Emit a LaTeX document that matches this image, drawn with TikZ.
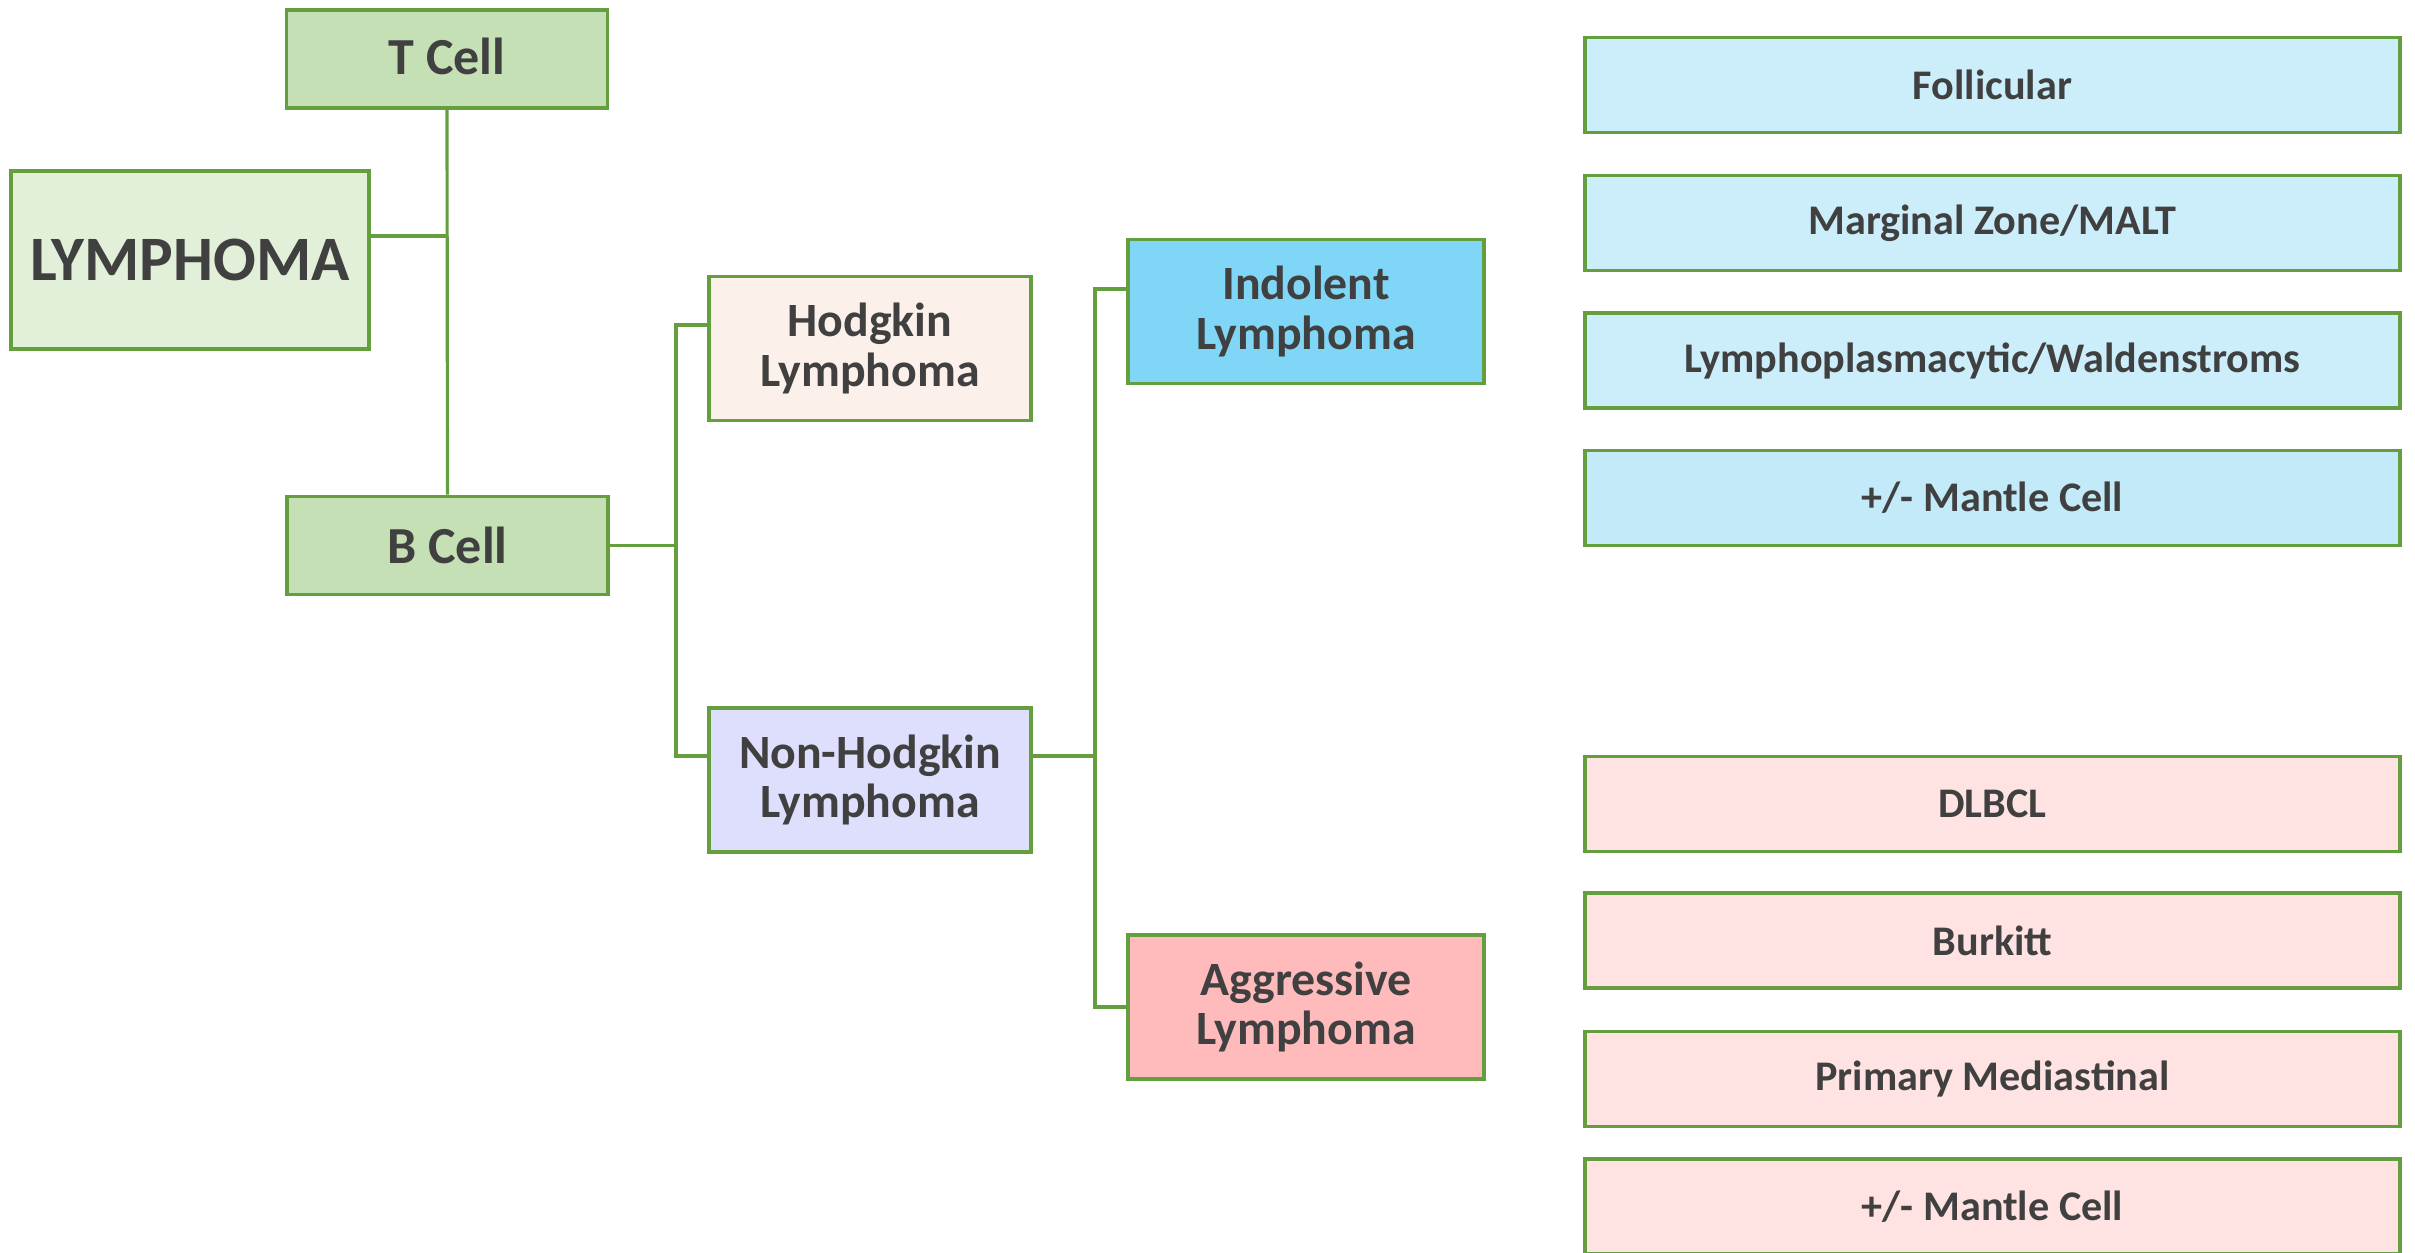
\documentclass[tikz,border=0pt]{standalone}
\usepackage{fontspec}
\setmainfont{Carlito}
\usepackage{tikz}
\usetikzlibrary{positioning}
\definecolor{boxline}{HTML}{659E3F}
\definecolor{textgrey}{HTML}{404040}
\definecolor{rootfill}{HTML}{E2F0D9}
\definecolor{cellfill}{HTML}{C5E0B4}
\definecolor{hodgfill}{HTML}{FBF0EA}
\definecolor{nhfill}{HTML}{DDDFFC}
\definecolor{indfill}{HTML}{7FD6F7}
\definecolor{aggfill}{HTML}{FFBBBB}
\definecolor{indsub}{HTML}{CCEEFA}
\definecolor{indsubb}{HTML}{C2EAF8}
\definecolor{aggsub}{HTML}{FFE3E3}
\tikzset{
	anybox/.style={rectangle, draw=boxline, line width=1.1pt, text=textgrey, align=center, inner sep=0pt},
	rootbox/.style={anybox, fill=rootfill, minimum width=3.58cm, minimum height=1.78cm, font={\fontsize{18}{19}\selectfont\bfseries}},
	cellbox/.style={anybox, fill=cellfill, minimum width=3.21cm, minimum height=0.98cm, font={\fontsize{14.8}{16}\selectfont\bfseries}},
	typebox/.style={anybox, minimum height=1.44cm, font={\fontsize{13.6}{14.2}\selectfont\bfseries}},
	subbox/.style={anybox, minimum width=8.15cm, minimum height=0.95cm, font={\fontsize{12}{14}\selectfont\bfseries}},
	link/.style={draw=boxline, line width=0.9pt}
}

\begin{document}
\begin{tikzpicture}

	\useasboundingbox (0,0) rectangle (24.15,-12.52);

	% cell lineage
	\node (lymphoma) [rootbox] at (1.90,-2.60) {LYMPHOMA};
	\node (tcell) [cellbox] at (4.47,-0.59) {\raisebox{0.05cm}{T Cell}};
	\node (bcell) [cellbox] at (4.475,-5.455) {B Cell};

	\draw[link] (tcell.south) -- (bcell.north);
	\draw[link] ([yshift=0.24cm]lymphoma.east) -- ([yshift=0.24cm]lymphoma.east -| tcell.south);

	% B cell split
	\node (hodgkin) [typebox, fill=hodgfill, minimum width=3.22cm] at (8.70,-3.485) {Hodgkin\\Lymphoma};
	\node (nonhodgkin) [typebox, fill=nhfill, minimum width=3.22cm] at (8.70,-7.80) {Non-Hodgkin\\Lymphoma};

	\draw[link] ([yshift=0.235cm]hodgkin.west) -- ++(-0.31,0) coordinate (hjoin)
		|- ([yshift=0.24cm]nonhodgkin.west);
	\draw[link] (bcell.east) -- (bcell.east -| hjoin);

	% non-Hodgkin split
	\node (indolent) [typebox, fill=indfill, minimum width=3.56cm] at (13.06,-3.115) {Indolent\\Lymphoma};
	\node (aggressive) [typebox, fill=aggfill, minimum width=3.56cm] at (13.06,-10.07) {Aggressive\\Lymphoma};

	\draw[link] ([yshift=0.225cm]indolent.west) -- ++(-0.31,0) coordinate (ijoin)
		|- (aggressive.west);
	\draw[link] ([yshift=0.24cm]nonhodgkin.east) -- ([yshift=0.24cm]nonhodgkin.east -| ijoin);

	% indolent types
	\node (follicular) [subbox, fill=indsub] at (19.925,-0.85) {Follicular};
	\node (marginal) [subbox, fill=indsub] at (19.925,-2.23) {Marginal Zone/MALT};
	\node (lympho) [subbox, fill=indsub] at (19.925,-3.605) {Lymphoplasmacytic/Waldenstroms};
	\node (mantleind) [subbox, fill=indsubb] at (19.925,-4.98) {+/- Mantle Cell};

	% aggressive types
	\node (dlbcl) [subbox, fill=aggsub] at (19.925,-8.04) {DLBCL};
	\node (burkitt) [subbox, fill=aggsub] at (19.925,-9.405) {Burkitt};
	\node (primary) [subbox, fill=aggsub] at (19.925,-10.79) {Primary Mediastinal};
	\node (mantleagg) [subbox, fill=aggsub] at (19.925,-12.065) {+/- Mantle Cell};

\end{tikzpicture}
\end{document}
